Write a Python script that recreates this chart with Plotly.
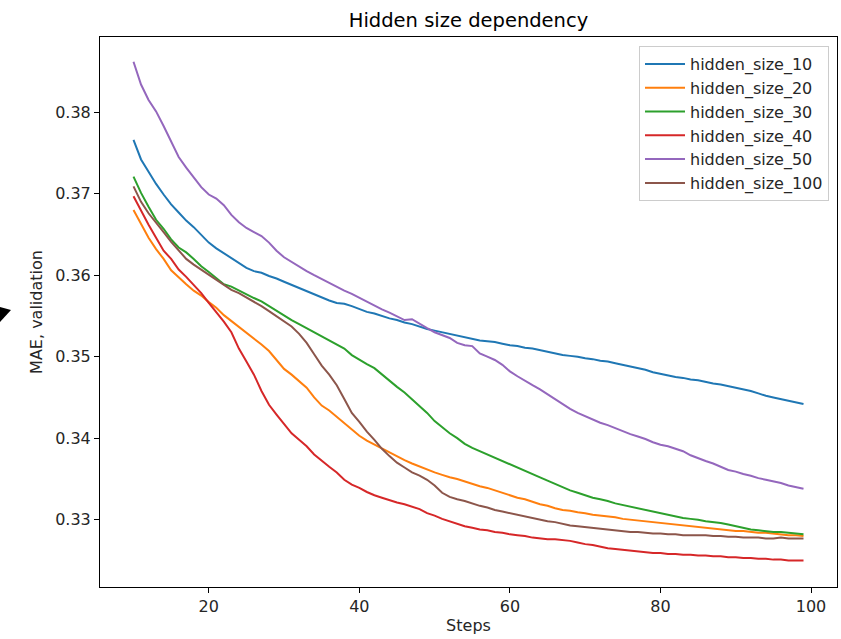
import plotly.graph_objects as go

steps = list(range(10, 100))

hidden_size_10 = [
    .3766, .3742, .3727, .3712, .3699, .3687, .3677, .3667, .3659, .3650,
    .3640, .3633, .3627, .3621, .3616, .3609, .3605, .3603, .3599, .3596,
    .3592, .3588, .3584, .3580, .3577, .3573, .3569, .3566, .3565, .3562,
    .3558, .3555, .3553, .3550, .3547, .3545, .3542, .3540, .3537, .3534,
    .3532, .3530, .3528, .3526, .3524, .3522, .3520, .3519, .3518, .3516,
    .3514, .3513, .3511, .3510, .3508, .3506, .3504, .3502, .3501, .3500,
    .3498, .3497, .3495, .3494, .3492, .3490, .3488, .3486, .3484, .3481,
    .3479, .3477, .3475, .3474, .3472, .3471, .3469, .3467, .3466, .3464,
    .3462, .3460, .3458, .3455, .3452, .3450, .3448, .3446, .3444, .3442]

hidden_size_20 = [
    .3680, .3662, .3646, .3632, .3620, .3606, .3597, .3589, .3581, .3575,
    .3567, .3560, .3551, .3544, .3537, .3530, .3522, .3515, .3507, .3496,
    .3485, .3478, .3470, .3462, .3450, .3440, .3434, .3426, .3418, .3410,
    .3403, .3397, .3392, .3387, .3382, .3378, .3373, .3369, .3365, .3361,
    .3358, .3355, .3352, .3350, .3347, .3344, .3341, .3339, .3336, .3333,
    .3330, .3327, .3325, .3322, .3319, .3317, .3314, .3312, .3311, .3309,
    .3308, .3306, .3305, .3304, .3303, .3301, .3300, .3299, .3298, .3297,
    .3296, .3295, .3294, .3293, .3292, .3291, .3290, .3289, .3288, .3287,
    .3286, .3286, .3285, .3284, .3284, .3283, .3282, .3281, .3281, .3280]

hidden_size_30 = [
    .3721, .3701, .3684, .3668, .3657, .3644, .3634, .3628, .3620, .3611,
    .3604, .3597, .3589, .3586, .3581, .3577, .3572, .3568, .3562, .3556,
    .3550, .3545, .3540, .3535, .3529, .3524, .3519, .3515, .3510, .3502,
    .3496, .3491, .3486, .3478, .3470, .3463, .3456, .3448, .3440, .3431,
    .3421, .3413, .3406, .3400, .3393, .3388, .3384, .3381, .3377, .3373,
    .3369, .3365, .3360, .3356, .3352, .3348, .3344, .3340, .3336, .3333,
    .3330, .3327, .3325, .3323, .3320, .3318, .3316, .3314, .3312, .3310,
    .3308, .3306, .3304, .3302, .3301, .3300, .3298, .3297, .3296, .3294,
    .3292, .3290, .3288, .3287, .3286, .3285, .3285, .3284, .3283, .3282]

hidden_size_40 = [
    .3697, .3679, .3662, .3646, .3630, .3620, .3607, .3598, .3588, .3578,
    .3566, .3555, .3543, .3530, .3510, .3494, .3478, .3458, .3441, .3429,
    .3417, .3406, .3398, .3390, .3380, .3372, .3365, .3358, .3349, .3343,
    .3339, .3334, .3330, .3327, .3324, .3321, .3319, .3316, .3313, .3308,
    .3305, .3301, .3298, .3295, .3292, .3290, .3288, .3287, .3285, .3284,
    .3282, .3281, .3280, .3278, .3277, .3276, .3276, .3275, .3274, .3272,
    .3270, .3269, .3267, .3265, .3264, .3263, .3262, .3261, .3260, .3259,
    .3259, .3258, .3258, .3257, .3257, .3256, .3256, .3255, .3255, .3254,
    .3254, .3253, .3253, .3252, .3252, .3251, .3251, .3250, .3250, .3250]

hidden_size_50 = [
    .3862, .3834, .3815, .3801, .3783, .3763, .3745, .3732, .3720, .3708,
    .3699, .3694, .3686, .3674, .3665, .3658, .3653, .3648, .3640, .3630,
    .3622, .3616, .3611, .3605, .3600, .3595, .3590, .3586, .3581, .3577,
    .3572, .3568, .3563, .3558, .3554, .3549, .3545, .3546, .3540, .3535,
    .3530, .3526, .3523, .3517, .3514, .3513, .3504, .3500, .3496, .3490,
    .3482, .3476, .3470, .3465, .3460, .3454, .3447, .3441, .3436, .3431,
    .3427, .3423, .3419, .3416, .3412, .3408, .3405, .3402, .3399, .3395,
    .3392, .3390, .3387, .3384, .3379, .3375, .3372, .3369, .3365, .3361,
    .3359, .3356, .3354, .3351, .3349, .3347, .3345, .3342, .3340, .3338]

hidden_size_100 = [
    .3709, .3690, .3676, .3665, .3653, .3641, .3630, .3620, .3613, .3607,
    .3600, .3595, .3589, .3582, .3578, .3573, .3568, .3562, .3556, .3550,
    .3543, .3537, .3528, .3517, .3503, .3489, .3478, .3465, .3448, .3431,
    .3420, .3408, .3398, .3387, .3378, .3370, .3364, .3358, .3354, .3349,
    .3342, .3333, .3328, .3325, .3323, .3320, .3317, .3315, .3312, .3310,
    .3308, .3306, .3304, .3302, .3300, .3298, .3297, .3295, .3293, .3292,
    .3291, .3290, .3289, .3288, .3287, .3286, .3285, .3285, .3284, .3283,
    .3283, .3282, .3282, .3281, .3281, .3281, .3281, .3280, .3280, .3279,
    .3279, .3278, .3278, .3278, .3277, .3277, .3278, .3277, .3277, .3277]

series_names = ["hidden_size_10", "hidden_size_20", "hidden_size_30",
                "hidden_size_40", "hidden_size_50", "hidden_size_100"]
series_values = [hidden_size_10, hidden_size_20, hidden_size_30,
                 hidden_size_40, hidden_size_50, hidden_size_100]
colors = ["#1f77b4", "#ff7f0e", "#2ca02c", "#d62728", "#9467bd", "#8c564b"]

x_ticks = [20, 40, 60, 80, 100]
y_ticks = [0.33, 0.34, 0.35, 0.36, 0.37, 0.38]

FONT = "DejaVu Sans, Liberation Sans, sans-serif"
FS = 16

fig = go.Figure()
for name, vals, col in zip(series_names, series_values, colors):
    fig.add_trace(go.Scatter(x=steps, y=vals, mode="lines", name=name,
                             line=dict(color=col, width=2)))

# plot area in pixels: left 100, right 837, top 37, bottom 587
L, R, T, B = 100, 837, 37, 587
W, H = 841, 639

def px(x):
    return (x - L) / (R - L)

def py(y):
    return (B - y) / (B - T)

fig.update_layout(
    width=W, height=H,
    margin=dict(l=L, r=W - R, t=T, b=H - B),
    paper_bgcolor="white", plot_bgcolor="white",
    font=dict(family=FONT, size=FS, color="#262626"),
    title=dict(text="Hidden size dependency", x=(L + R) / 2 / W, xanchor="center",
               y=1 - 20 / H, yanchor="middle",
               font=dict(family=FONT, size=19.5, color="black")),
    showlegend=True,
    legend=dict(x=px(829), y=py(46), xanchor="right", yanchor="top",
                bgcolor="rgba(255,255,255,0.8)", bordercolor="#cccccc", borderwidth=1,
                font=dict(family=FONT, size=FS, color="#262626"),
                itemwidth=40),
    shapes=[dict(type="path", xref="paper", yref="paper",
                 path="M %f,%f L %f,%f L %f,%f Z" % (px(0), py(307), px(11), py(310), px(0), py(322)),
                 fillcolor="black", line=dict(color="black", width=0))],
)

fig.update_xaxes(range=[5.55, 103.45], tickvals=x_ticks, ticks="outside", ticklen=5,
                 tickcolor="black", showline=True, linecolor="black", linewidth=1,
                 mirror=True, showgrid=False, zeroline=False,
                 title=dict(text="Steps", standoff=4, font=dict(size=FS)),
                 tickfont=dict(size=FS))
fig.update_yaxes(range=[0.32174, 0.38923], tickvals=y_ticks, tickformat=".2f",
                 ticksuffix="\u00a0",
                 ticks="outside", ticklen=5, tickcolor="black", showline=True,
                 linecolor="black", linewidth=1, mirror=True, showgrid=False,
                 zeroline=False,
                 title=dict(text="MAE, validation", standoff=8, font=dict(size=FS)),
                 tickfont=dict(size=FS))

fig.write_html("out.html")
